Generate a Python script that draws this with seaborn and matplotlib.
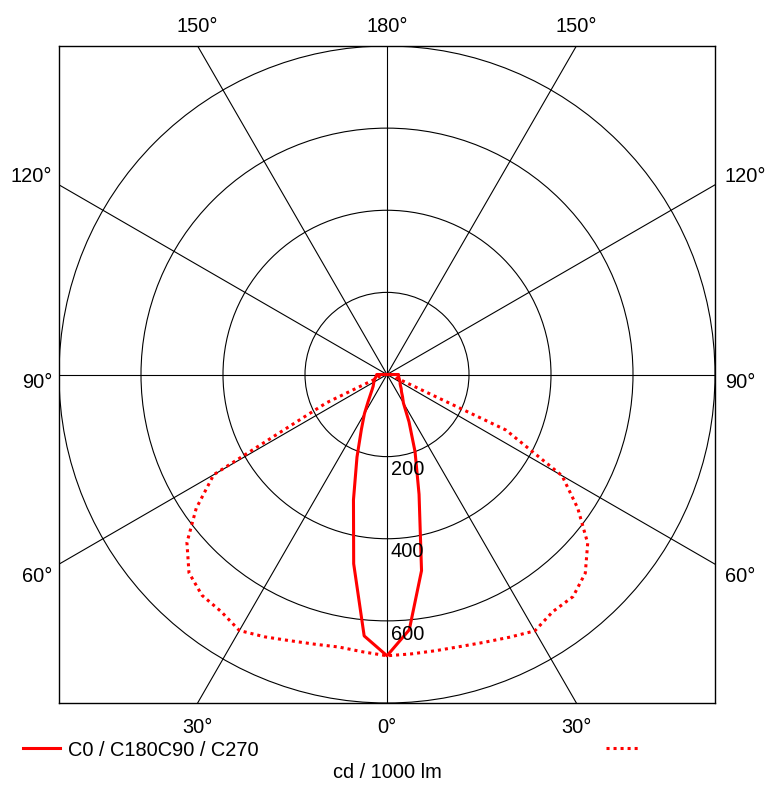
import numpy as np
import pandas as pd
import matplotlib
matplotlib.use("Agg")
import matplotlib.pyplot as plt
from matplotlib.patches import Circle
from matplotlib.lines import Line2D
import seaborn as sns

# luminous intensity distribution, cd / 1000 lm
gamma = [0, 5, 10, 15, 20, 25, 30, 35, 40, 45, 50, 55, 60, 65, 70, 75, 80, 85, 90, 180]
c0 = [685, 624, 485, 302, 200, 127, 80, 66, 55, 49, 43, 39, 37, 34, 32, 30, 29, 28, 28, 0]
c180 = [685, 639, 468, 316, 214, 148, 110, 80, 62, 51, 44, 40, 37, 34, 32, 29, 27, 26, 25, 0]
c90 = [685, 683, 683, 686, 694, 706, 721, 705, 706, 684, 639, 568, 493, 320, 24, 20, 15, 12, 10, 0]
c270 = [685, 678, 674, 680, 690, 705, 720, 705, 702, 683, 637, 568, 488, 163, 24, 20, 15, 12, 10, 0]

rings = [200, 400, 600, 800]
ring_labels = ["200", "400", "600"]
spokes = [0, 30, 60, 90, 120, 150]
top_labels = ["150°", "180°", "150°"]
bottom_labels = ["30°", "0°", "30°"]
side_labels = ["120°", "90°", "60°"]
legend_text = "C0 / C180C90 / C270"
unit_text = "cd / 1000 lm"


def half_planes(left, right):
    # left half drawn mirrored, 0 deg pointing down
    g = np.radians(gamma)
    left = np.array(left, float)
    right = np.array(right, float)
    x = np.concatenate([-left[::-1] * np.sin(g[::-1]), right * np.sin(g)])
    y = np.concatenate([-left[::-1] * np.cos(g[::-1]), -right * np.cos(g)])
    return pd.DataFrame({"x": x, "y": y})


solid = half_planes(c180, c0)
dotted = half_planes(c270, c90)

fig = plt.figure(figsize=(7.77, 7.86), dpi=100)
plt.rcParams['font.family'] = ['Liberation Sans', 'DejaVu Sans']
ax = fig.add_axes([59 / 777, 1 - 703 / 786, 656 / 777, 657 / 786])
ax.set_xlim(-800, 800)
ax.set_ylim(-800, 800)
ax.set_xticks([])
ax.set_yticks([])
for s in ax.spines.values():
    s.set_linewidth(1.0)
    s.set_color("black")

# grid: rings and spokes
for r in rings:
    ax.add_patch(Circle((0, 0), r, fill=False, lw=0.8, color="black", zorder=1))
for a in spokes:
    t = np.radians(a)
    ax.plot([-2000 * np.sin(t), 2000 * np.sin(t)], [-2000 * np.cos(t), 2000 * np.cos(t)],
            color="black", lw=0.8, zorder=1)

sns.lineplot(data=solid, x="x", y="y", sort=False, estimator=None, color="#ff0000",
             lw=2.2, ax=ax, zorder=3)
sns.lineplot(data=dotted, x="x", y="y", sort=False, estimator=None, color="#ff0000",
             lw=2.2, dashes=False, ax=ax, zorder=3)
ax.lines[-1].set_dashes((1, 1.3))
ax.set_xlabel("")
ax.set_ylabel("")

fs = 14.4
for lab, r in zip(ring_labels, rings):
    ax.text(9, -(r + 32), lab, ha="left", va="center", fontsize=fs)

tx = 800 * np.tan(np.radians(30))
for lab, x in zip(top_labels, [-tx, 0, tx]):
    ax.text(x, 847, lab, ha="center", va="center", fontsize=fs, clip_on=False)
for lab, x in zip(bottom_labels, [-tx, 0, tx]):
    ax.text(x, -859, lab, ha="center", va="center", fontsize=fs, clip_on=False)
for lab, y in zip(side_labels, [481, -19, -493]):
    ax.text(-817, y, lab, ha="right", va="center", fontsize=fs, clip_on=False)
    ax.text(824, y, lab, ha="left", va="center", fontsize=fs, clip_on=False)

# legend row
ly = 1 - 748 / 786
fig.add_artist(Line2D([22.5 / 777, 60 / 777], [ly, ly], color="#ff0000", lw=2.2))
fig.text(68.5 / 777, 1 - 750 / 786, legend_text, ha="left", va="center", fontsize=fs)
fig.add_artist(Line2D([606 / 777, 638 / 777], [ly, ly], color="#ff0000", lw=2.2,
                      dashes=(1, 1.3)))
fig.text(387 / 777, 1 - 773 / 786, unit_text, ha="center", va="center", fontsize=fs)

fig.savefig("out.png", dpi=100)
